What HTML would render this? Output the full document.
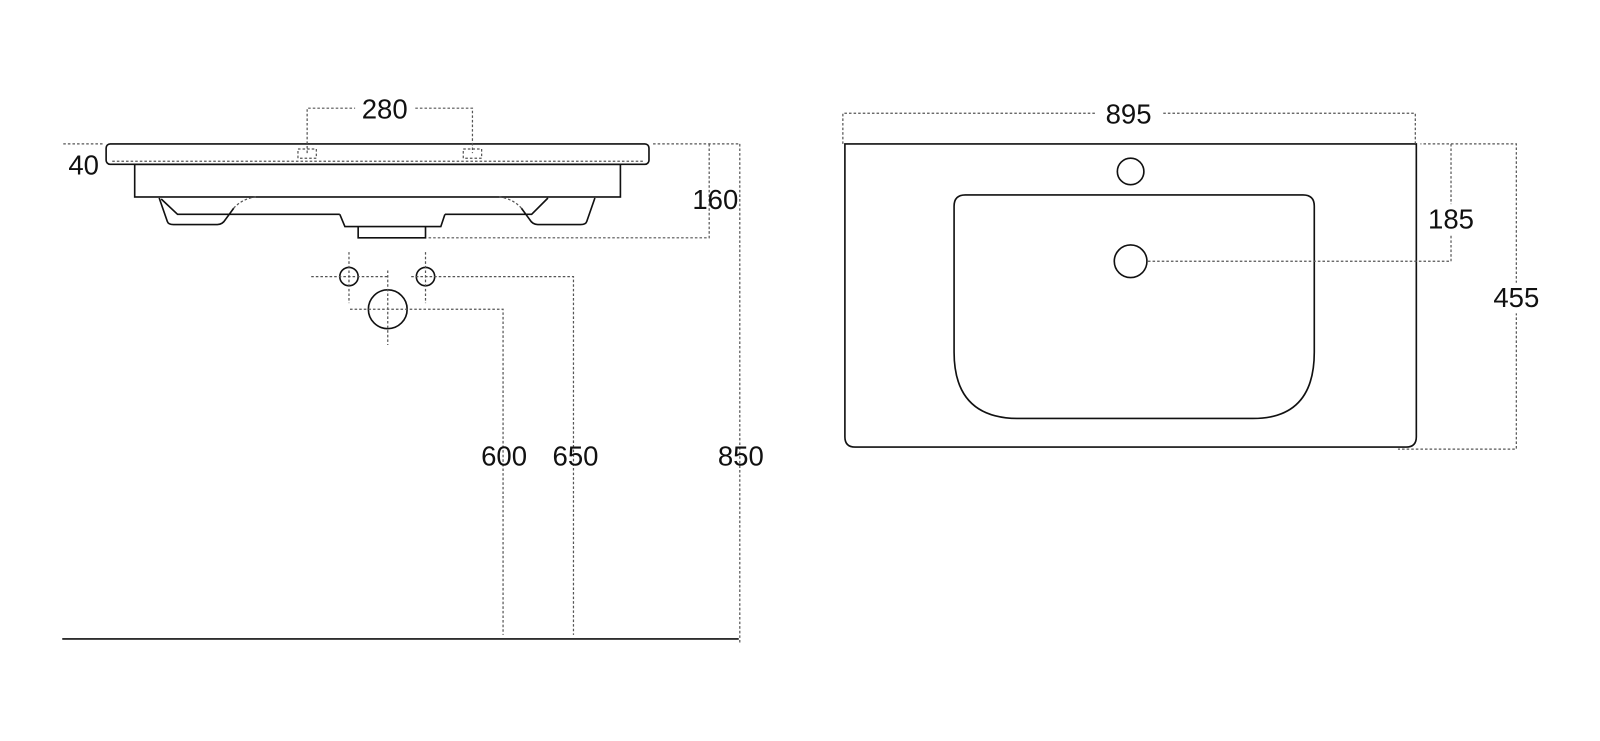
<!DOCTYPE html>
<html><head><meta charset="utf-8"><style>
html,body{margin:0;padding:0;background:#fff;}
svg{display:block;}
text{font-family:"Liberation Sans",sans-serif;font-size:27px;fill:#111;text-anchor:middle;}
.s{fill:none;stroke:#111;stroke-width:1.6;}
.d{fill:none;stroke:#555;stroke-width:1.2;stroke-dasharray:2.5 2;}
</style></head><body>
<svg width="1600" height="741" viewBox="0 0 1568 726" preserveAspectRatio="none">
<!-- LEFT VIEW -->
<rect class="s" x="104" y="141" width="532" height="20" rx="4"/>
<path class="d" d="M110 158 H630"/>
<rect class="s" x="132" y="161" width="476" height="32"/>
<path class="s" d="M156 194 L164 217 Q165 220 170 220 L213 220 Q218 220 221 215 L229 204"/>
<path class="d" d="M229 204 Q238 194 252 193"/>
<path class="s" d="M158 195 L174 210 H333 M436 210 H521 L537 194"/>
<path class="s" d="M583 194 L575 217 Q574 220 569 220 L527 220 Q522 220 519 215 L511 204"/>
<path class="d" d="M511 204 Q502 194 488 193"/>
<path class="s" d="M333 210 L338 222 H432 L436 210"/>
<path class="s" d="M351 222 V233 H417 V222"/>
<path class="d" d="M301 150 V106 H348 M407 106 H463 V150"/>
<text x="377" y="116">280</text>
<rect class="d" x="292" y="146" width="18" height="9"/>
<rect class="d" x="454" y="146" width="18" height="9"/>
<path class="d" d="M62 141 H102"/>
<text x="82" y="171">40</text>
<path class="d" d="M640 141 H725"/>
<path class="d" d="M695 141 V233 H419"/>
<text x="701" y="205">160</text>
<path class="d" d="M725 141 V630"/>
<text x="726" y="456">850</text>
<circle class="s" cx="342" cy="271" r="9"/>
<circle class="s" cx="417" cy="271" r="9"/>
<circle class="s" cx="380" cy="303" r="19"/>
<path class="d" d="M342 247 V297 M417 247 V297 M305 271 H380 M380 265 V338 M343 303 H493 V622 M403 271 H562 V622"/>
<text x="494" y="456">600</text>
<text x="564" y="456">650</text>
<path d="M61 626 H724" stroke="#111" stroke-width="1.6"/>
<!-- RIGHT VIEW -->
<path class="s" d="M828 141 H1388 V428 Q1388 438 1378 438 H838 Q828 438 828 428 Z"/>
<circle class="s" cx="1108" cy="168" r="13"/>
<path class="s" d="M935 202 Q935 191 946 191 H1277 Q1288 191 1288 202 V345 Q1288 410 1228 410 H998 Q935 410 935 345 Z"/>
<circle class="s" cx="1108" cy="256" r="16"/>
<path class="d" d="M1125 256 H1422 V141 H1392 M1422 141 H1486 V440 H1370"/>
<rect x="1400" y="200" width="44" height="30" fill="#fff"/>
<text x="1422" y="224">185</text>
<rect x="1462" y="277" width="48" height="30" fill="#fff"/>
<text x="1486" y="301">455</text>
<path class="d" d="M826 141 V111 H1073 M1140 111 H1387 V141"/>
<text x="1106" y="121">895</text>
</svg>
</body></html>
